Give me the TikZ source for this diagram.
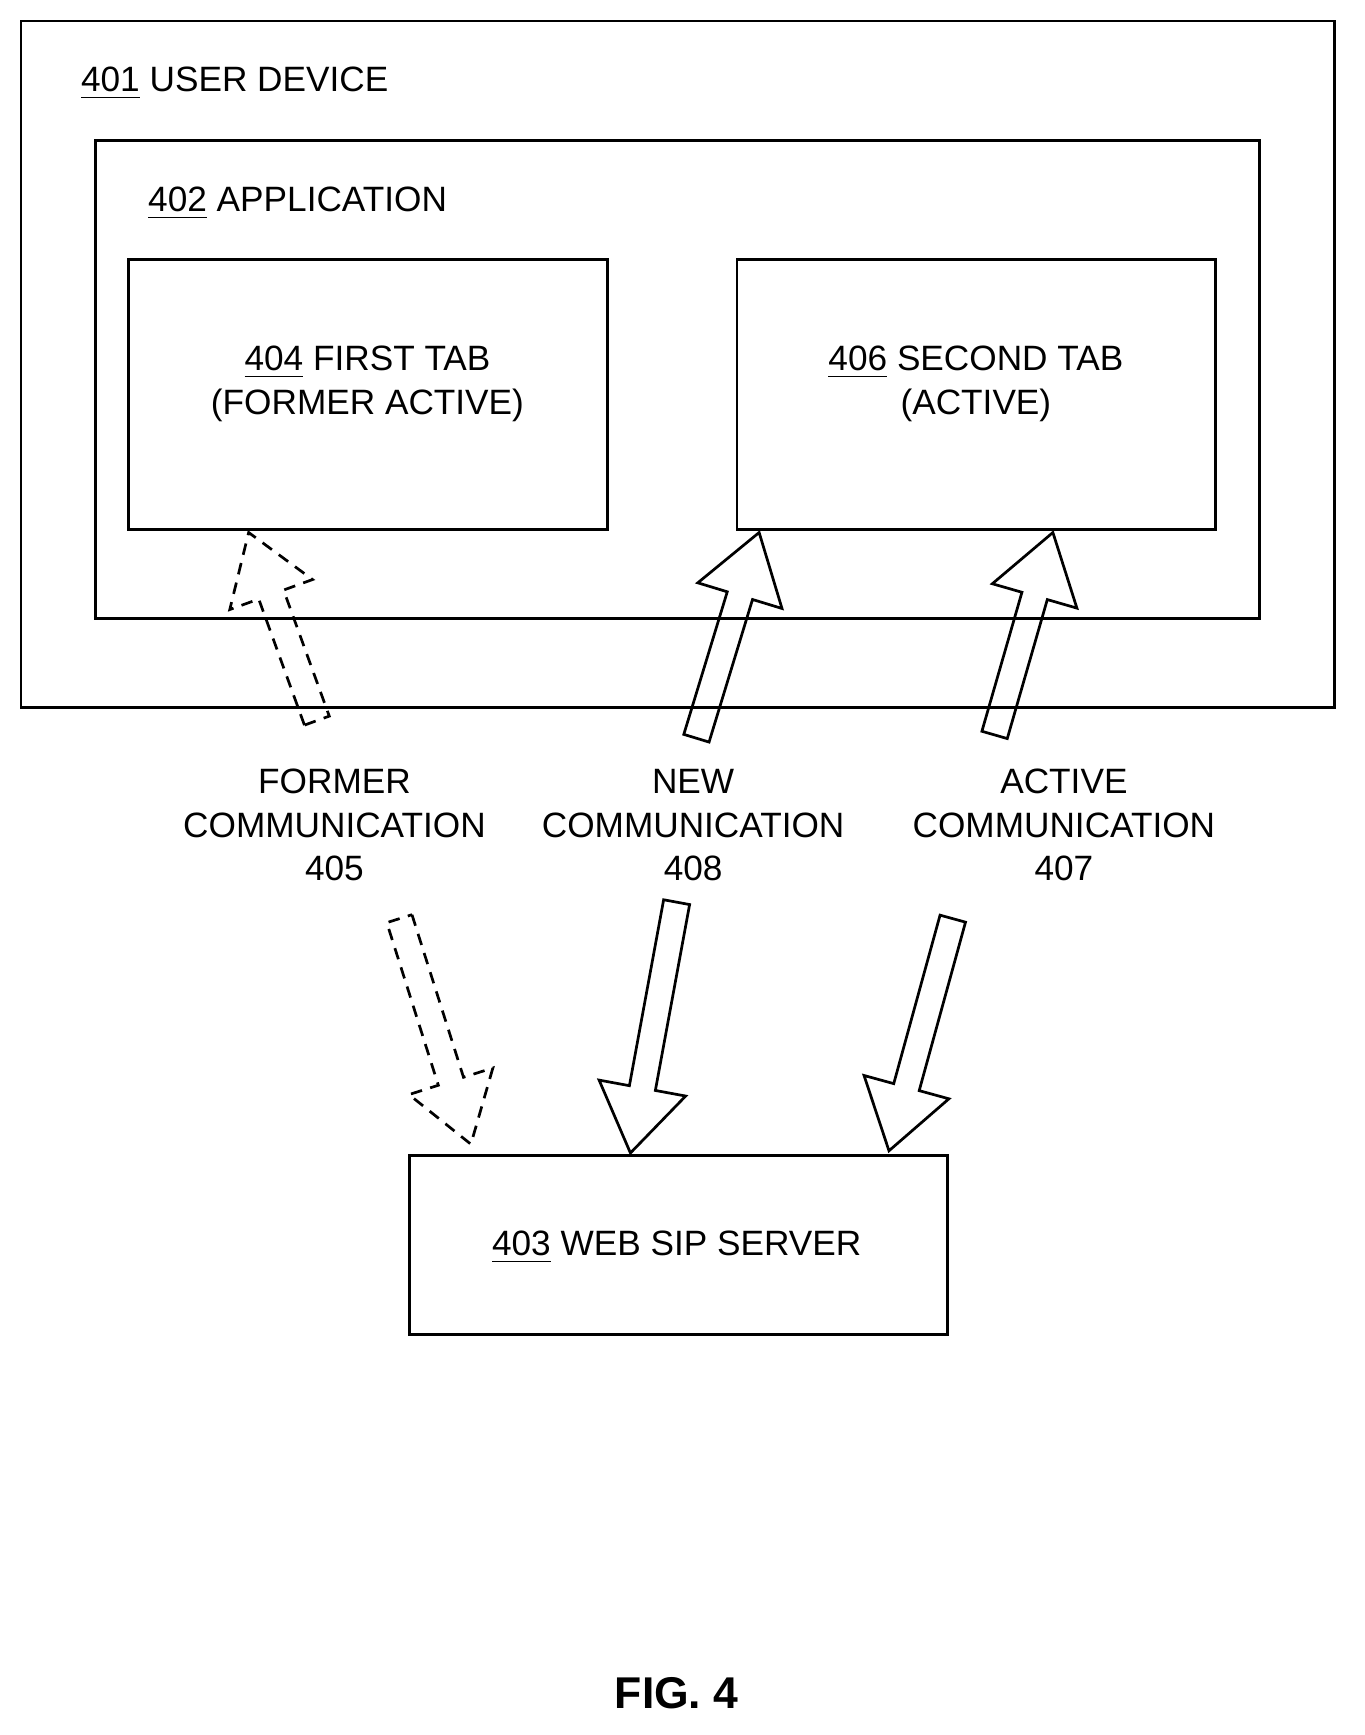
\documentclass[tikz,border=0pt]{standalone}
\usepackage{fontspec}
\setmainfont{Liberation Sans}
\usetikzlibrary{positioning,calc}
\tikzset{
  box/.style={draw, line width=0.7pt, inner sep=0pt},
  lbl/.style={font=\fontsize{9.1}{11.2}\selectfont, align=center, inner sep=0pt},
  fat/.style={draw, line width=0.7pt, line join=miter},
  fatdash/.style={fat, dash pattern=on 3pt off 2.2pt}
}
% hollow block arrow from (x1,y1) to (x2,y2), pixel coordinates
\newcommand\blockarrow[5]{%
  \pgfmathsetmacro\ba{atan2(-(#5-#3),#4-#2)}%
  \pgfmathsetmacro\bl{veclen(#4-#2,#5-#3)}%
  \draw[#1, shift={(#2,#3)}, rotate=\ba]
    (0,-12) -- (\bl-60,-12) -- (\bl-60,-40) -- (\bl,0) -- (\bl-60,40)
    -- (\bl-60,12) -- (0,12) -- cycle;}
\begin{document}
\begin{tikzpicture}[x=0.01cm, y=-0.01cm]
  \useasboundingbox (0,0) rectangle (1240,1577);

  % boxes
  \draw[box] (19,19) rectangle (1213,643);
  \node[lbl, anchor=west] (dev) at (73,76) {\underline{401} USER DEVICE};
  \draw[box] (87,128) rectangle (1145,562);
  \node[lbl, anchor=west] (app) at (134,185) {\underline{402} APPLICATION};
  \draw[box] (117,236) rectangle (552,481);
  \node[lbl] (tab1) at (334,349) {\underline{404} FIRST TAB\\(FORMER ACTIVE)};
  \draw[box] (670,236) rectangle (1105,481);
  \node[lbl] (tab2) at (887,349) {\underline{406} SECOND TAB\\(ACTIVE)};
  \draw[box] (372,1050) rectangle (861,1213);
  \node[lbl] (srv) at (615,1134) {\underline{403} WEB SIP SERVER};

  % labels
  \node[lbl] (c405) at (304,750) {FORMER\\COMMUNICATION\\405};
  \node[lbl] (c408) at (630,750) {NEW\\COMMUNICATION\\408};
  \node[lbl] (c407) at (967,750) {ACTIVE\\COMMUNICATION\\407};

  % block arrows
  \blockarrow{fatdash}{288}{655}{226}{484}
  \blockarrow{fat}{633}{671}{690}{484}
  \blockarrow{fat}{904}{668}{957}{484}
  \blockarrow{fatdash}{363}{835}{428}{1040}
  \blockarrow{fat}{615}{820}{573}{1048}
  \blockarrow{fat}{866}{835}{808}{1046}

  \node[font=\bfseries\fontsize{11.5}{13}\selectfont] (fig) at (615,1539) {FIG. 4};
\end{tikzpicture}
\end{document}
